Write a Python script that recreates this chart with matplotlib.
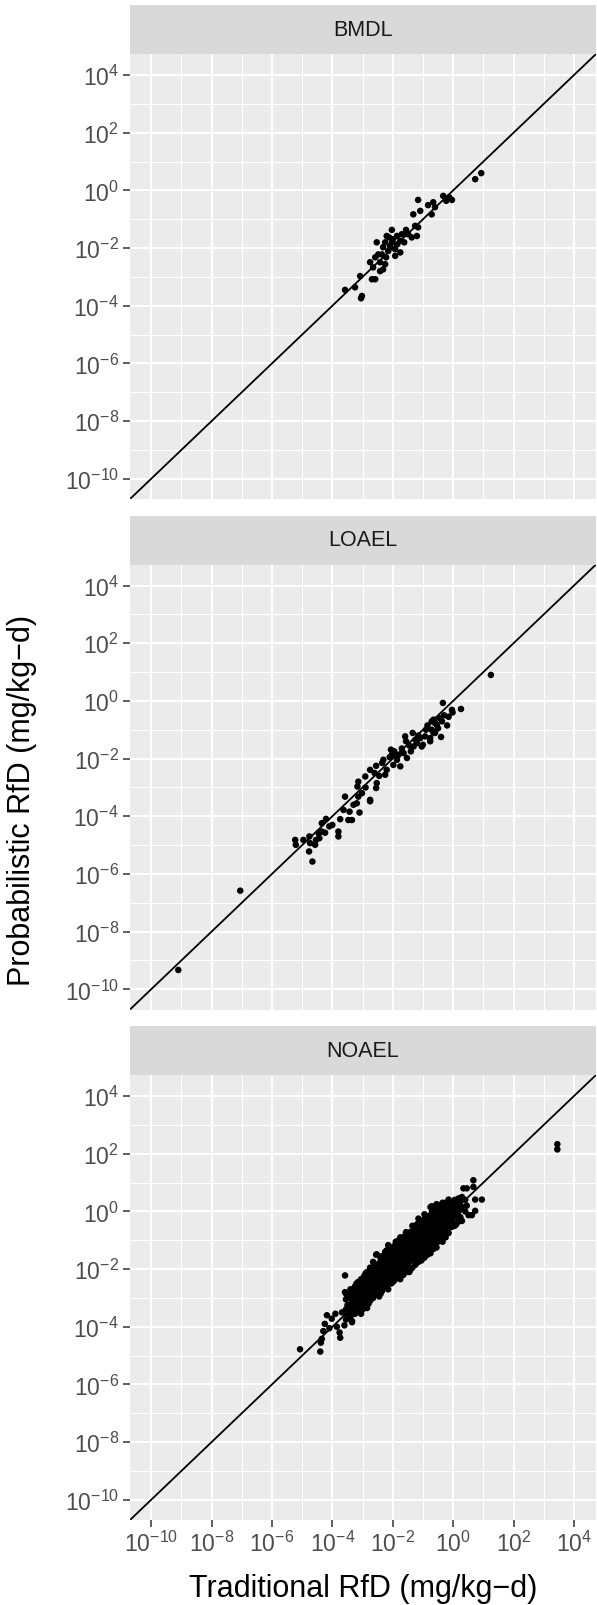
import numpy as np
import matplotlib
matplotlib.use('Agg')
import matplotlib.pyplot as plt
from matplotlib.ticker import FixedLocator, NullFormatter

# fonts: Arial-like look of the R output
plt.rcParams['font.family'] = ['Liberation Sans', 'DejaVu Sans']
plt.rcParams['mathtext.fontset'] = 'custom'
plt.rcParams['mathtext.rm'] = 'Liberation Sans'
plt.rcParams['mathtext.it'] = 'Liberation Sans:italic'
plt.rcParams['mathtext.bf'] = 'Liberation Sans:bold'

# data, as log10 values
facets = ['BMDL', 'LOAEL', 'NOAEL']

bmdl_trad_log = [0.93, 0.73, -0.04, -0.33, -0.23, -0.66, -0.60, -0.71, -1.16, -1.09,
                 -1.32, -1.26, -1.16, -1.20, -1.37, -1.56, -1.49, -1.70, -1.75, -1.86,
                 -2.03, -1.99, -2.20, -2.25, -2.09, -1.92, -1.75, -1.92, -2.15, -2.32,
                 -2.53, -2.36, -2.48, -2.58, -2.42, -2.75, -2.65, -2.25, -2.42, -2.69,
                 -2.58, -3.08, -3.25, -3.58, -3.02, -3.05, -2.02, -1.85, -2.12, -2.22,
                 -1.62, -2.32, -0.83, -0.13]
bmdl_prob_log = [0.60, 0.39, -0.33, -0.19, -0.36, -0.41, -0.58, -0.83, -0.33, -0.71,
                 -0.83, -1.23, -1.28, -1.58, -1.63, -1.37, -1.52, -1.52, -1.75, -1.58,
                 -1.37, -1.69, -1.58, -1.80, -1.93, -2.04, -2.15, -2.27, -2.10, -1.97,
                 -1.80, -2.22, -2.22, -2.32, -2.49, -2.49, -2.67, -2.56, -2.80, -3.08,
                 -3.08, -2.97, -3.36, -3.45, -3.66, -3.74, -1.80, -1.87, -1.63, -2.32,
                 -1.80, -2.74, -0.51, -0.24]

loael_trad_log = [-9.10, -7.05, -5.23, -5.21, -4.96, -4.76, -4.74, -4.77, -4.66, -4.54,
                  -4.57, -4.43, -4.35, -4.24, -4.35, -4.21, -3.80, -3.80, -3.74, -3.58,
                  -3.63, -3.43, -3.47, -3.35, -3.10, -3.19, -3.14, -3.17, -3.14, -3.02,
                  -2.91, -2.75, -2.75, -2.75, -2.55, -2.53, -2.55, -2.31, -2.25, -2.20,
                  -2.06, -2.03, -1.98, -1.86, -1.75, -1.81, -1.59, -1.56, -1.64, -1.53,
                  -1.34, -1.31, -1.20, -1.09, -1.04, -0.76, -0.71, -0.71, -0.54, -0.37,
                  -0.34, -0.65, -0.93, 1.25, -0.04, -0.02, 0.26, -0.65, -0.60, -0.60,
                  -0.76, -1.00, -2.10, -1.95, -1.70, -1.45, -1.40, -1.25, -1.15, -0.90,
                  -0.85, -0.50, -0.45, -0.30, -0.20, -0.15, -0.40, -2.35, -2.45, -2.60,
                  -2.90, -3.30, -4.00, -4.45, -4.10]
loael_prob_log = [-9.33, -6.58, -4.82, -4.99, -4.82, -4.70, -4.93, -5.22, -5.57, -4.82,
                  -4.99, -4.76, -4.53, -4.57, -4.24, -4.09, -4.53, -4.70, -4.10, -3.32,
                  -3.78, -3.84, -4.13, -4.13, -3.87, -3.55, -3.32, -2.97, -2.80, -3.20,
                  -2.62, -2.39, -3.43, -3.48, -3.02, -2.85, -2.25, -2.04, -2.56, -2.39,
                  -1.69, -1.87, -2.22, -2.04, -2.27, -1.87, -1.23, -1.40, -1.81, -1.98,
                  -1.11, -1.58, -1.46, -1.29, -1.58, -1.40, -1.00, -0.71, -0.83, -0.71,
                  -0.07, -1.11, -1.23, 0.90, -0.31, -0.40, -0.28, -0.65, -0.77, -1.11,
                  -1.29, -1.52, -1.95, -1.75, -1.65, -1.55, -1.75, -1.35, -1.20, -1.00,
                  -0.85, -0.95, -0.60, -0.50, -0.85, -0.55, -1.25, -2.15, -2.60, -2.50,
                  -3.00, -3.60, -4.30, -4.60, -4.35]

noael_trad_log = [
    -5.07, -4.40, -4.38, -4.35, -4.30, -4.25, -4.02, -3.74, -3.76, -3.58, -3.58, -3.35,
    -3.68, -3.60, -4.10, -3.90, -3.85, -4.18,
    -3.55, -3.55, -3.55, -3.55, -3.45, -3.45, -3.45, -3.35, -3.35, -3.35, -3.35,
    -3.25, -3.25, -3.25, -3.25, -3.15, -3.15, -3.15, -3.15,
    -3.05, -3.05, -3.05, -3.05, -3.05, -2.95, -2.95, -2.95, -2.95,
    -2.85, -2.85, -2.85, -2.85, -2.85, -2.75, -2.75, -2.75, -2.75, -2.75,
    -2.65, -2.65, -2.65, -2.65, -2.65, -2.55, -2.55, -2.55, -2.55, -2.55,
    -2.45, -2.45, -2.45, -2.45, -2.45, -2.35, -2.35, -2.35, -2.35, -2.35,
    -2.25, -2.25, -2.25, -2.25, -2.25, -2.15, -2.15, -2.15, -2.15, -2.15, -2.15,
    -2.05, -2.05, -2.05, -2.05, -2.05, -1.95, -1.95, -1.95, -1.95, -1.95,
    -1.85, -1.85, -1.85, -1.85, -1.85, -1.75, -1.75, -1.75, -1.75, -1.75, -1.75,
    -1.65, -1.65, -1.65, -1.65, -1.65, -1.55, -1.55, -1.55, -1.55, -1.55,
    -1.45, -1.45, -1.45, -1.45, -1.45, -1.35, -1.35, -1.35, -1.35, -1.35, -1.35,
    -1.25, -1.25, -1.25, -1.25, -1.25, -1.15, -1.15, -1.15, -1.15, -1.15, -1.15,
    -1.05, -1.05, -1.05, -1.05, -1.05, -0.95, -0.95, -0.95, -0.95, -0.95, -0.95,
    -0.85, -0.85, -0.85, -0.85, -0.85, -0.75, -0.75, -0.75, -0.75, -0.75, -0.75,
    -0.65, -0.65, -0.65, -0.65, -0.65, -0.55, -0.55, -0.55, -0.55, -0.55, -0.55,
    -0.45, -0.45, -0.45, -0.45, -0.45, -0.35, -0.35, -0.35, -0.35, -0.35, -0.35,
    -0.25, -0.25, -0.25, -0.25, -0.25, -0.15, -0.15, -0.15, -0.15, -0.15,
    -0.05, -0.05, -0.05, -0.05, 0.05, 0.05, 0.05, 0.05, 0.18, 0.18, 0.18, 0.18,
    0.29, 0.29, 0.29, 0.34, 0.45, 0.45, 0.51, 0.62, 0.67, 0.67, 0.73, 0.73, 0.95,
    -0.71, -0.43, -1.56, -2.53, 3.45, 3.45]
noael_prob_log = [
    -4.78, -4.86, -4.55, -4.42, -4.15, -3.90, -3.72, -4.38, -4.20, -2.22, -2.80, -3.84,
    -3.50, -3.95, -4.05, -3.55, -4.00, -3.60,
    -3.75, -3.40, -3.05, -2.85, -3.60, -3.25, -2.95, -3.80, -3.50, -3.15, -2.80,
    -3.55, -3.20, -2.90, -2.60, -3.40, -3.05, -2.70, -2.45,
    -3.55, -3.25, -2.90, -2.60, -2.35, -3.20, -2.85, -2.55, -2.25,
    -3.35, -3.00, -2.70, -2.40, -2.10, -3.10, -2.80, -2.50, -2.20, -1.95,
    -3.00, -2.65, -2.35, -2.05, -1.75, -2.85, -2.55, -2.25, -1.95, -1.50,
    -2.95, -2.65, -2.35, -2.05, -1.80, -2.75, -2.45, -2.15, -1.85, -1.55,
    -2.60, -2.30, -2.00, -1.70, -1.40, -2.70, -2.40, -2.10, -1.80, -1.50, -1.17,
    -2.50, -2.20, -1.90, -1.60, -1.30, -2.40, -2.10, -1.80, -1.50, -1.20,
    -2.30, -2.00, -1.70, -1.40, -1.10, -2.35, -2.05, -1.75, -1.45, -1.15, -0.90,
    -2.20, -1.90, -1.60, -1.30, -1.00, -2.10, -1.80, -1.50, -1.20, -0.90,
    -2.10, -1.75, -1.45, -1.15, -0.85, -1.95, -1.65, -1.35, -1.05, -0.75, -0.50,
    -1.85, -1.55, -1.25, -0.95, -0.65, -1.75, -1.45, -1.15, -0.85, -0.55, -0.25,
    -1.70, -1.40, -1.10, -0.80, -0.50, -1.60, -1.30, -1.00, -0.70, -0.40, -0.10,
    -1.50, -1.20, -0.90, -0.60, -0.30, -1.45, -1.15, -0.85, -0.55, -0.25, 0.15,
    -1.30, -1.00, -0.70, -0.40, -0.10, -1.25, -0.95, -0.65, -0.35, -0.05, 0.25,
    -1.00, -0.70, -0.40, -0.10, 0.20, -1.05, -0.80, -0.50, -0.20, 0.10, 0.30,
    -0.90, -0.60, -0.30, 0.00, 0.30, -0.75, -0.45, -0.15, 0.15, 0.41,
    -0.54, -0.30, 0.00, 0.30, -0.50, -0.20, 0.10, 0.40, -0.35, 0.00, 0.30, 0.45,
    -0.33, 0.16, 0.50, 0.80, 0.80, 0.20, -0.13, -0.13, 1.08, 0.85, 0.41, 0.02, 0.41,
    0.18, -1.00, -0.72, -1.49, 2.33, 2.15]

# more NOAEL chemicals inside the dense band
noael_core_trad_log = [
    -3.50, -3.50, -3.50, -3.40, -3.40, -3.40, -3.40, -3.30, -3.30, -3.30,
    -3.20, -3.20, -3.20, -3.20, -3.10, -3.10, -3.10, -3.00, -3.00, -3.00, -3.00,
    -2.90, -2.90, -2.90, -2.90, -2.80, -2.80, -2.80, -2.80, -2.70, -2.70, -2.70, -2.70,
    -2.60, -2.60, -2.60, -2.60, -2.50, -2.50, -2.50, -2.50,
    -2.40, -2.40, -2.40, -2.40, -2.40, -2.30, -2.30, -2.30, -2.30,
    -2.20, -2.20, -2.20, -2.20, -2.20, -2.10, -2.10, -2.10, -2.10,
    -2.00, -2.00, -2.00, -2.00, -2.00, -1.90, -1.90, -1.90, -1.90, -1.90,
    -1.80, -1.80, -1.80, -1.80, -1.80, -1.70, -1.70, -1.70, -1.70,
    -1.60, -1.60, -1.60, -1.60, -1.60, -1.50, -1.50, -1.50, -1.50,
    -1.40, -1.40, -1.40, -1.40, -1.40, -1.30, -1.30, -1.30, -1.30,
    -1.20, -1.20, -1.20, -1.20, -1.20, -1.10, -1.10, -1.10, -1.10, -1.10,
    -1.00, -1.00, -1.00, -1.00, -1.00, -0.90, -0.90, -0.90, -0.90, -0.90,
    -0.80, -0.80, -0.80, -0.80, -0.80, -0.70, -0.70, -0.70, -0.70, -0.70,
    -0.60, -0.60, -0.60, -0.60, -0.60, -0.50, -0.50, -0.50, -0.50, -0.50,
    -0.40, -0.40, -0.40, -0.40, -0.30, -0.30, -0.30, -0.30,
    -0.20, -0.20, -0.20, -0.20, -0.10, -0.10, -0.10, -0.10,
    0.00, 0.00, 0.00, 0.10, 0.10, 0.10, 0.24, 0.24, 0.24, 0.40, 0.40]
noael_core_prob_log = [
    -3.60, -3.25, -2.95, -3.65, -3.35, -3.00, -2.70, -3.45, -3.10, -2.75,
    -3.40, -3.05, -2.75, -2.50, -3.25, -2.90, -2.55, -3.40, -3.05, -2.75, -2.45,
    -3.05, -2.75, -2.40, -2.15, -3.20, -2.85, -2.55, -2.25, -2.95, -2.65, -2.30, -2.00,
    -2.80, -2.50, -2.15, -1.85, -2.75, -2.40, -2.10, -1.85,
    -2.85, -2.55, -2.25, -1.95, -1.65, -2.45, -2.15, -1.85, -1.55,
    -2.55, -2.25, -1.95, -1.65, -1.35, -2.35, -2.05, -1.75, -1.45,
    -2.45, -2.15, -1.85, -1.55, -1.25, -2.25, -1.95, -1.65, -1.35, -1.05,
    -2.20, -1.90, -1.60, -1.30, -1.00, -2.10, -1.80, -1.50, -1.20,
    -2.00, -1.70, -1.40, -1.10, -0.85, -1.95, -1.65, -1.35, -1.05,
    -2.00, -1.60, -1.30, -1.00, -0.70, -1.70, -1.40, -1.10, -0.80,
    -1.65, -1.35, -1.05, -0.75, -0.45, -1.55, -1.25, -0.95, -0.65, -0.35,
    -1.55, -1.25, -0.95, -0.65, -0.30, -1.40, -1.10, -0.80, -0.50, -0.20,
    -1.35, -1.05, -0.75, -0.45, -0.15, -1.20, -0.90, -0.55, -0.30, 0.00,
    -1.10, -0.80, -0.50, -0.20, 0.10, -1.05, -0.75, -0.50, -0.20, 0.10,
    -0.90, -0.60, -0.30, 0.05, -0.75, -0.45, -0.15, 0.15,
    -0.70, -0.40, -0.10, 0.20, -0.55, -0.25, 0.05, 0.30,
    -0.40, -0.10, 0.20, -0.45, -0.10, 0.25, -0.20, 0.10, 0.35, 0.00, 0.40]

series = {
    'BMDL': (bmdl_trad_log, bmdl_prob_log),
    'LOAEL': (loael_trad_log, loael_prob_log),
    'NOAEL': (noael_trad_log + noael_core_trad_log, noael_prob_log + noael_core_prob_log),
}

major_exp = list(range(-10, 5, 2))
minor_exp = list(range(-11, 6, 2))
lim_lo, lim_hi = 10 ** -10.70, 10 ** 4.73

W, H = 597, 1606
fig = plt.figure(figsize=(W / 100, H / 100), dpi=100)

LEFT, RIGHT = 130, 596
STRIP_H, PANEL_H, STEP = 49, 445, 510.5

for i, name in enumerate(facets):
    strip_top = 6 + i * STEP
    panel_top = strip_top + STRIP_H
    panel_bot = panel_top + PANEL_H

    ax = fig.add_axes([LEFT / W, 1 - panel_bot / H, (RIGHT - LEFT) / W, PANEL_H / H])
    ax.set_facecolor('#EBEBEB')
    ax.set_xscale('log')
    ax.set_yscale('log')
    ax.set_xlim(lim_lo, lim_hi)
    ax.set_ylim(lim_lo, lim_hi)

    for axis in (ax.xaxis, ax.yaxis):
        axis.set_major_locator(FixedLocator([10.0 ** e for e in major_exp]))
        axis.set_minor_locator(FixedLocator([10.0 ** e for e in minor_exp]))
        axis.set_minor_formatter(NullFormatter())
    labels = [r'$\mathregular{10^{%d}}$' % e for e in major_exp]
    ax.set_yticklabels(labels)
    ax.set_xticklabels(labels)

    ax.grid(which='major', color='white', linewidth=1.4)
    ax.grid(which='minor', color='white', linewidth=0.75)
    ax.set_axisbelow(True)
    for sp in ax.spines.values():
        sp.set_visible(False)

    ax.tick_params(which='major', length=5, width=1.1, color='#333333',
                   labelcolor='#4D4D4D', labelsize=16.5, pad=3)
    ax.tick_params(which='minor', length=0)
    if i < len(facets) - 1:
        ax.tick_params(axis='x', which='both', length=0, labelbottom=False)

    # 1:1 line
    ax.plot([lim_lo, lim_hi], [lim_lo, lim_hi], color='black', linewidth=1.3, zorder=2)

    xs, ys = series[name]
    ax.scatter(np.power(10.0, xs), np.power(10.0, ys), s=22, c='black',
               edgecolors='none', zorder=3)

    # facet strip
    sax = fig.add_axes([LEFT / W, 1 - panel_top / H, (RIGHT - LEFT) / W, STRIP_H / H])
    sax.set_facecolor('#D9D9D9')
    sax.set_xticks([])
    sax.set_yticks([])
    for sp in sax.spines.values():
        sp.set_visible(False)
    sax.text(0.5, 0.5, name, ha='center', va='center', fontsize=15.5, color='#1A1A1A',
             transform=sax.transAxes)

fig.text((LEFT + RIGHT) / 2 / W, 1 - 1589 / H, 'Traditional RfD (mg/kg\u2212d)',
         ha='center', va='center', fontsize=22, color='black')
fig.text(22 / W, 1 - 800 / H, 'Probabilistic RfD (mg/kg\u2212d)',
         ha='center', va='center', rotation=90, fontsize=22, color='black')

fig.savefig('out.png', dpi=100)
